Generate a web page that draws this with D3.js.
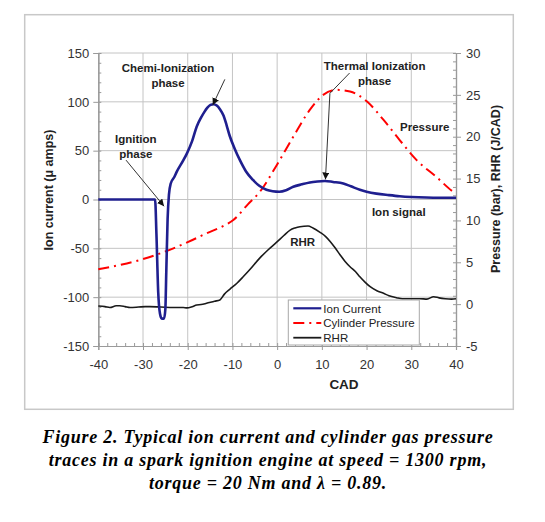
<!DOCTYPE html>
<html>
<head>
<meta charset="utf-8">
<script src="https://cdn.jsdelivr.net/npm/d3@7"></script>
<style>
  body { margin: 0; background: #fff; }
</style>
</head>
<body>
<div id="chart"></div>
<script>
// Ion current (left axis, µA)
const ionCad = [-40, -30, -27.3, -27.0, -26.6, -26.2, -25.8, -25.3, -25.0, -24.8, -24.5, -24.2, -23.8, -23, -22.5, -21, -20.2, -19, -18, -17, -16.3, -15.6, -14.9, -14.2, -13.5, -12.8, -12, -11.3, -10.6, -9.5, -8.3, -7, -5.4, -4, -2.4, -1, 0.5, 2, 3.6, 5.5, 7.3, 9, 10.7, 12.5, 14.8, 16.5, 18.5, 20, 22.2, 25, 27.4, 30, 33.4, 36, 40];
const ionCurrent = [0, 0, 0, -35, -95, -117, -122, -122, -112, -75, -20, 5, 16.4, 23, 28, 40, 47, 60, 74.5, 84, 89.5, 94, 96.8, 97.6, 96.2, 92.5, 86, 76, 65, 52, 40, 29, 20, 14, 10, 8.5, 8, 9.5, 13, 15.5, 17.5, 18.5, 19, 18, 16.4, 13.5, 10, 8, 6, 4.5, 3.4, 2.6, 2, 1.8, 1.8];

// Cylinder pressure (right axis, bar)
const pressureCad = [-40, -35, -30.7, -27, -23.2, -20, -15.8, -12, -9.8, -6.5, -3.9, -0.1, 3.6, 7.3, 10.3, 13.3, 16.3, 20.1, 23.8, 27.4, 31.2, 35.6, 39.7, 40];
const pressureBar = [4.16, 4.7, 5.27, 5.9, 6.67, 7.4, 8.46, 9.35, 10.05, 11.95, 13.4, 16.6, 20, 23.2, 25, 25.6, 25.4, 24.2, 22, 19.6, 17.2, 15.2, 13.3, 13.2];

// Rate of heat release (right axis, J/CAD)
const rhrCad = [-40, -38.5, -37.4, -36, -35.2, -34, -32.9, -31, -29.5, -28.5, -26, -23.2, -21, -20.2, -19, -18, -17, -15.8, -14, -12.8, -11.8, -10.6, -9, -7.6, -6, -3.9, -2, -0.1, 1.5, 2.9, 4, 5.1, 6.9, 8, 9.6, 10.8, 11.9, 13, 14.1, 15.2, 16.3, 17.5, 18.5, 19.7, 20.8, 22.3, 23.8, 25, 26.7, 28, 30, 32, 33.5, 35, 36.2, 37.6, 39, 40];
const rhrValue = [-0.23, -0.3, -0.4, -0.2, -0.2, -0.3, -0.4, -0.35, -0.3, -0.3, -0.35, -0.4, -0.4, -0.45, -0.3, -0.1, -0.05, 0.1, 0.35, 0.5, 1.2, 1.77, 2.5, 3.27, 4.2, 5.5, 6.5, 7.4, 8.2, 8.85, 9.1, 9.25, 9.33, 9.1, 8.58, 8.1, 7.46, 6.7, 5.87, 5.1, 4.47, 3.9, 3.27, 2.6, 2.08, 1.6, 1.29, 1.0, 0.77, 0.65, 0.65, 0.65, 0.6, 0.89, 0.75, 0.65, 0.6, 0.65];

const xTicks = [-40, -30, -20, -10, 0, 10, 20, 30, 40];
const leftTicks = [-150, -100, -50, 0, 50, 100, 150];
const rightTicks = [-5, 0, 5, 10, 15, 20, 25, 30];

const legendLabels = ["Ion Current", "Cylinder Pressure", "RHR"];

// text annotations in data units (CAD, ion current)
const noteLabels = [
  { lines: ["Chemi-Ionization", "phase"], cad: -24.4, ion: 131 },
  { lines: ["Ignition", "phase"], cad: -31.6, ion: 58 },
  { lines: ["Thermal Ionization", "phase"], cad: 21.8, ion: 133 },
  { lines: ["Pressure"], cad: 33, ion: 70 },
  { lines: ["Ion signal"], cad: 27.2, ion: -17 },
  { lines: ["RHR"], cad: 5.7, ion: -48 },
];
const noteArrows = [
  [[-11.7, 123], [-14.4, 96.7]],
  [[-33.8, 40.3], [-25.3, -6.9]],
  [[16.2, 129.5], [11.8, 108.7], [10.8, 20.5]],
];

const captionLines = [
  "Figure 2. Typical ion current and cylinder gas pressure",
  "traces in a spark ignition engine at speed = 1300 rpm,",
  "torque = 20 Nm and \u03bb = 0.89.",
];

const COLORS = { ion: "#1f1f8f", pressure: "#ff0000", rhr: "#1a1a1a" };
const SANS = "Arial, 'Liberation Sans', sans-serif";

const width = 545;
const height = 522;
const plot = { left: 98.3, right: 456, top: 53, bottom: 346 };

const svg = d3.select("#chart")
  .append("svg")
  .attr("width", width)
  .attr("height", height)
  .attr("font-family", SANS);

svg.append("rect")
  .attr("x", 24.7).attr("y", 14.7)
  .attr("width", 488.6).attr("height", 394.6)
  .attr("fill", "#fff")
  .attr("stroke", "#c8c8c8")
  .attr("stroke-width", 1.5);

const x = d3.scaleLinear().domain([-40, 40]).range([plot.left, plot.right]);
const yL = d3.scaleLinear().domain([-150, 150]).range([plot.bottom, plot.top]);
const yR = d3.scaleLinear().domain([-5, 30]).range([plot.bottom, plot.top]);

// grid
const grid = svg.append("g").attr("stroke", "#c4c4c4").attr("stroke-width", 1);
grid.selectAll(".vg").data(xTicks.slice(1, -1)).join("line")
  .attr("x1", (d) => x(d)).attr("x2", (d) => x(d))
  .attr("y1", plot.top).attr("y2", plot.bottom);
grid.selectAll(".hg").data(leftTicks.slice(1)).join("line")
  .attr("x1", plot.left).attr("x2", plot.right)
  .attr("y1", (d) => yL(d)).attr("y2", (d) => yL(d));

// axes
const axisColor = "#9a9a9a";
const fontSize = 13;
const plain = (d) => String(d);

const bottom = svg.append("g").attr("transform", `translate(0,${plot.bottom})`)
  .call(d3.axisBottom(x).tickValues(xTicks).tickSize(4).tickFormat(plain));
const bottomMinor = svg.append("g").attr("transform", `translate(0,${plot.bottom})`)
  .call(d3.axisTop(x).tickValues(d3.range(-40, 41, 2)).tickSize(3).tickFormat(""));

const left = svg.append("g").attr("transform", `translate(${plot.left},0)`)
  .call(d3.axisLeft(yL).tickValues(leftTicks).tickSize(5).tickFormat(plain));
const leftMinor = svg.append("g").attr("transform", `translate(${plot.left},0)`)
  .call(d3.axisRight(yL).tickValues(d3.range(-150, 151, 10)).tickSize(3).tickFormat(""));

const right = svg.append("g").attr("transform", `translate(${plot.right},0)`)
  .call(d3.axisRight(yR).tickValues(rightTicks).tickSize(5).tickFormat(plain));
const rightMinor = svg.append("g").attr("transform", `translate(${plot.right},0)`)
  .call(d3.axisLeft(yR).tickValues(d3.range(-5, 31, 1)).tickSize(3).tickFormat(""));

[bottom, bottomMinor, left, leftMinor, right, rightMinor].forEach((a) => {
  a.attr("font-family", SANS);
  a.select(".domain").attr("stroke", axisColor).attr("stroke-width", 1.2);
  a.selectAll(".tick line").attr("stroke", axisColor);
  a.selectAll(".tick text")
    .attr("fill", "#333")
    .attr("font-size", fontSize);
});
bottom.selectAll(".tick text").attr("dy", "1.2em");
left.selectAll(".tick text").attr("x", -9);
right.selectAll(".tick text").attr("x", 10);

// axis titles
svg.append("text")
  .attr("transform", `translate(53,190) rotate(-90)`)
  .attr("text-anchor", "middle")
  .attr("font-size", 12.5).attr("font-weight", 700).attr("fill", "#222")
  .text("Ion current (\u03bc amps)");

svg.append("text")
  .attr("transform", `translate(500,189) rotate(-90)`)
  .attr("text-anchor", "middle")
  .attr("font-size", 12.5).attr("font-weight", 700).attr("fill", "#222")
  .text("Pressure (bar), RHR (J/CAD)");

svg.append("text")
  .attr("x", 344).attr("y", 389)
  .attr("text-anchor", "middle")
  .attr("font-size", 13.5).attr("font-weight", 700).attr("fill", "#222")
  .text("CAD");

// series
const ionLine = d3.line()
  .x((d, i) => x(ionCad[i])).y((d) => yL(d))
  .curve(d3.curveMonotoneX);
const pressureLine = d3.line()
  .x((d, i) => x(pressureCad[i])).y((d) => yR(d))
  .curve(d3.curveMonotoneX);
const rhrLine = d3.line()
  .x((d, i) => x(rhrCad[i])).y((d) => yR(d))
  .curve(d3.curveMonotoneX);

svg.append("path").datum(rhrValue)
  .attr("fill", "none").attr("stroke", COLORS.rhr).attr("stroke-width", 1.6)
  .attr("d", rhrLine);

svg.append("path").datum(pressureBar)
  .attr("fill", "none").attr("stroke", COLORS.pressure).attr("stroke-width", 2)
  .attr("stroke-dasharray", "11,5,2,5")
  .attr("d", pressureLine);

svg.append("path").datum(ionCurrent)
  .attr("fill", "none").attr("stroke", COLORS.ion).attr("stroke-width", 2.6)
  .attr("stroke-linejoin", "round")
  .attr("d", ionLine);

// annotations
svg.append("defs").append("marker")
  .attr("id", "arrow")
  .attr("viewBox", "0 0 10 10")
  .attr("refX", 10).attr("refY", 5)
  .attr("markerWidth", 7).attr("markerHeight", 7)
  .attr("markerUnits", "userSpaceOnUse")
  .attr("orient", "auto")
  .append("path")
  .attr("d", "M0,0L10,5L0,10Z")
  .attr("fill", "#111");

const arrowLine = d3.line().x((d) => x(d[0])).y((d) => yL(d[1]));
svg.append("g").selectAll("path").data(noteArrows).join("path")
  .attr("fill", "none").attr("stroke", "#333").attr("stroke-width", 1)
  .attr("marker-end", "url(#arrow)")
  .attr("d", arrowLine);

const notes = svg.append("g").selectAll("text").data(noteLabels).join("text")
  .attr("x", (d) => x(d.cad))
  .attr("y", (d) => yL(d.ion))
  .attr("text-anchor", "middle")
  .attr("font-size", 11.5).attr("font-weight", 700).attr("fill", "#222");
notes.selectAll("tspan").data((d) => d.lines.map((t) => ({ t, cx: x(d.cad) }))).join("tspan")
  .attr("x", (d) => d.cx)
  .attr("dy", (_, i) => (i === 0 ? 0 : 15))
  .text((d) => d.t);

// legend
const legend = svg.append("g").attr("transform", "translate(288.3,300)");
legend.append("rect")
  .attr("width", 131).attr("height", 45)
  .attr("fill", "#fff").attr("stroke", "#a8a8a8").attr("stroke-width", 1);
const legendStyles = [
  { color: COLORS.ion, width: 2.2, dash: null },
  { color: COLORS.pressure, width: 2, dash: "11,5,2,5" },
  { color: COLORS.rhr, width: 1.8, dash: null },
];
const legendRow = legend.selectAll("g").data(legendLabels).join("g")
  .attr("transform", (_, i) => `translate(0,${8.3 + i * 14.7})`);
legendRow.append("line")
  .attr("x1", 5).attr("x2", 33)
  .attr("stroke", (_, i) => legendStyles[i].color)
  .attr("stroke-width", (_, i) => legendStyles[i].width)
  .attr("stroke-dasharray", (_, i) => legendStyles[i].dash);
legendRow.append("text")
  .attr("x", 35).attr("y", 4.3)
  .attr("font-size", 11.5).attr("fill", "#222")
  .text((d) => d);

// caption
svg.append("g").selectAll("text").data(captionLines).join("text")
  .attr("x", 268)
  .attr("y", (_, i) => 443 + i * 23)
  .attr("text-anchor", "middle")
  .attr("font-family", "'Times New Roman', 'Liberation Serif', serif")
  .attr("font-size", 18)
  .attr("letter-spacing", 0.75)
  .attr("font-weight", 700)
  .attr("font-style", "italic")
  .attr("fill", "#000")
  .text((d) => d);
</script>
</body>
</html>
